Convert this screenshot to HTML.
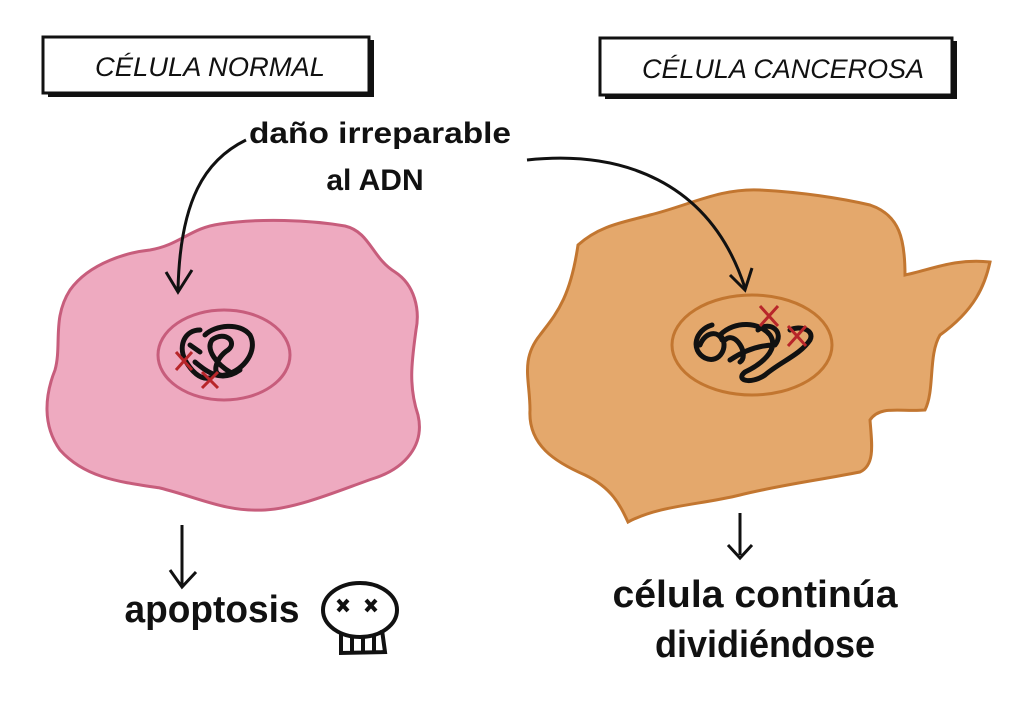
<!DOCTYPE html>
<html><head><meta charset="utf-8"><style>
html,body{margin:0;padding:0;background:#fff;}
svg{display:block}
text{font-family:"Liberation Sans",sans-serif;fill:#111;}
</style></head><body>
<svg width="1024" height="724" viewBox="0 0 1024 724" xmlns="http://www.w3.org/2000/svg">
<rect width="1024" height="724" fill="#fff"/>
<rect x="43" y="37" width="326" height="56" fill="#fff" stroke="#111" stroke-width="3"/>
<path d="M48 95 L372 95 L372 40" fill="none" stroke="#111" stroke-width="4"/>
<text x="210" y="76" font-size="27" text-anchor="middle" font-style="italic" textLength="230" lengthAdjust="spacingAndGlyphs">CÉLULA NORMAL</text>
<rect x="600" y="38" width="352" height="57" fill="#fff" stroke="#111" stroke-width="3"/>
<path d="M605 97 L955 97 L955 41" fill="none" stroke="#111" stroke-width="4"/>
<text x="783" y="78" font-size="27" text-anchor="middle" font-style="italic" textLength="282" lengthAdjust="spacingAndGlyphs">CÉLULA CANCEROSA</text>
<path d="M70 290 C90 262 130 252 150 250 C180 245 190 228 220 224 C260 218 310 220 345 226 C370 232 372 258 395 272 C415 285 420 310 416 330 C412 360 408 385 418 415 C425 445 405 468 375 478 C345 488 300 508 265 510 C225 512 200 498 160 488 C120 482 85 478 60 450 C42 425 45 395 55 370 C62 345 52 318 70 290 Z" fill="#eeaac0" stroke="#c75d7c" stroke-width="3"/>
<ellipse cx="224" cy="355" rx="66" ry="45" fill="#eeaac0" stroke="#c75d7c" stroke-width="3"/>
<path d="M200 330 C185 330 178 345 185 360 C192 372 200 380 210 378 M205 335 C215 325 240 322 250 335 C258 350 245 370 225 375 C210 378 215 358 228 350 C238 342 225 330 212 340 C205 350 218 365 230 372 M190 345 L200 352 M195 362 C205 370 220 384 240 370" fill="none" stroke="#111" stroke-width="5" stroke-linecap="round"/>
<path d="M176 352 L192 370 M192 352 L176 370 M202 372 L218 388 M218 372 L202 388" stroke="#b8262a" stroke-width="3"/>
<path d="M578 245 C600 225 625 222 650 215 C690 205 720 188 760 190 C800 192 840 198 870 205 C900 215 905 240 905 275 C930 270 955 258 990 262 C985 285 975 310 940 335 C928 355 935 390 925 410 C900 412 880 405 870 420 C872 445 875 465 860 472 C820 480 780 485 740 495 C700 505 660 505 628 522 C620 505 612 488 585 475 C555 462 528 445 530 410 C530 380 520 360 540 335 C555 315 570 300 578 245 Z" fill="#e4a86c" stroke="#c27630" stroke-width="3"/>
<ellipse cx="752" cy="345" rx="80" ry="50" fill="#e4a86c" stroke="#c27630" stroke-width="3"/>
<path d="M712 325 C695 330 690 350 705 358 C720 365 730 345 720 335 C735 320 760 322 770 335 C780 350 760 365 745 372 C735 380 750 385 765 375 C780 362 800 355 810 340 C815 330 800 325 790 330 M730 360 C745 350 760 345 775 345 M725 340 C735 330 750 355 740 362 M758 330 C770 320 785 332 775 345 M700 345 C705 332 718 330 722 340" fill="none" stroke="#111" stroke-width="5" stroke-linecap="round"/>
<path d="M760 306 L778 326 M778 306 L760 326 M788 326 L806 346 M806 326 L788 346" stroke="#b8262a" stroke-width="3"/>
<text x="380" y="143" font-size="30" text-anchor="middle" font-weight="bold" textLength="262" lengthAdjust="spacingAndGlyphs">daño irreparable</text>
<text x="375" y="190" font-size="30" text-anchor="middle" font-weight="bold">al ADN</text>
<path d="M246 140 C205 160 180 200 178 290" fill="none" stroke="#111" stroke-width="3"/>
<path d="M166 272 L178 292 L192 270" fill="none" stroke="#111" stroke-width="3"/>
<path d="M527 160 C620 150 710 180 745 288" fill="none" stroke="#111" stroke-width="3"/>
<path d="M730 275 L745 290 L752 268" fill="none" stroke="#111" stroke-width="3"/>
<path d="M182 525 L182 585 M170 570 L182 587 L196 572" fill="none" stroke="#111" stroke-width="3"/>
<path d="M740 513 L740 555 M728 545 L740 558 L752 545" fill="none" stroke="#111" stroke-width="3"/>
<text x="212" y="622" font-size="38" text-anchor="middle" font-weight="bold" textLength="175" lengthAdjust="spacingAndGlyphs">apoptosis</text>
<text x="755" y="607" font-size="38" text-anchor="middle" font-weight="bold" textLength="285" lengthAdjust="spacingAndGlyphs">célula continúa</text>
<text x="765" y="657" font-size="38" text-anchor="middle" font-weight="bold" textLength="220" lengthAdjust="spacingAndGlyphs">dividiéndose</text>
<ellipse cx="360" cy="610" rx="37" ry="27" fill="#fff" stroke="#111" stroke-width="4"/>
<path d="M341 632 L341 653 L385 652 L382 630 M352 636 L352 652 M363 636 L363 652 M374 636 L374 652" fill="none" stroke="#111" stroke-width="4"/>
<path d="M338 600 L348 611 M348 600 L338 611 M366 600 L376 611 M376 600 L366 611" stroke="#111" stroke-width="4"/>
</svg>
</body></html>
